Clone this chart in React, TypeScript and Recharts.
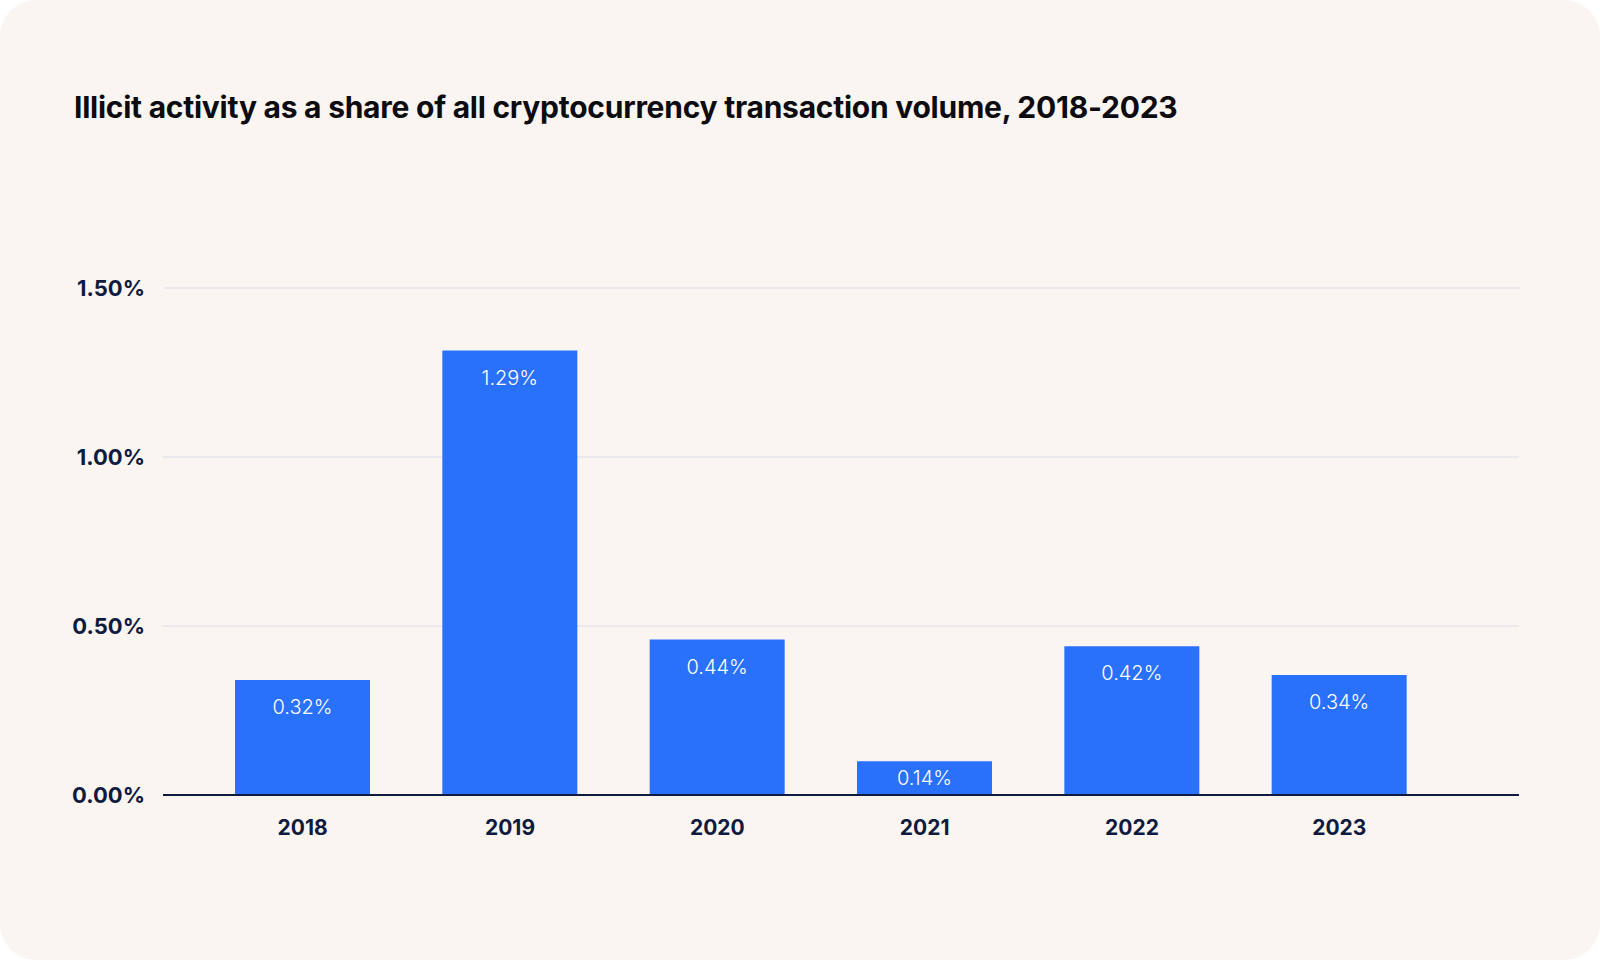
import React from 'react';
import { BarChart, Bar, XAxis, YAxis, CartesianGrid, LabelList } from 'recharts';

// Years on the x axis
const years = ['2018', '2019', '2020', '2021', '2022', '2023'];
// Bar heights as drawn in the source chart (% of volume)
const shares = [0.34, 1.315, 0.46, 0.1, 0.44, 0.355];
// Value labels printed inside the bars
const shareLabels = ['0.32%', '1.29%', '0.44%', '0.14%', '0.42%', '0.34%'];
// Y axis ticks
const yTicks = [0, 0.5, 1, 1.5];

const NAVY = '#0e1a3e';
const BLUE = '#2970fb';
const FONT = 'Inter, "Noto Sans", sans-serif';

const data = years.map((year, i) => ({ year, share: shares[i], label: shareLabels[i] }));

// label sits near the top of the bar, but stays centred in short bars
const BarValue = (props: any) => {
  const { x, y, width, height, value } = props;
  const cy = Math.min(y + 27, y + height / 2);
  return (
    <text
      x={x + width / 2}
      y={cy}
      textAnchor="middle"
      dominantBaseline="central"
      fill="#ffffff"
      fontSize={20}
      fontWeight={300}
      fontFamily={FONT}
    >
      {value}
    </text>
  );
};

const App: React.FC = () => {
  return (
    <div style={{ position: 'fixed', left: 0, top: 0, width: 1600, height: 960, background: '#ffffff' }}>
      <div
        style={{
          position: 'absolute',
          left: 0,
          top: 0,
          width: 1600,
          height: 960,
          borderRadius: 36,
          background: '#faf5f1',
          overflow: 'hidden',
        }}
      >
        <div
          style={{
            position: 'absolute',
            left: 74,
            top: 89,
            fontFamily: FONT,
            fontWeight: 700,
            fontSize: 30,
            letterSpacing: -0.25,
            color: '#0b0b10',
            whiteSpace: 'nowrap',
          }}
        >
          Illicit activity as a share of all cryptocurrency transaction volume, 2018-2023
        </div>
        <div style={{ position: 'absolute', left: 0, top: 0 }}>
          <BarChart
            width={1600}
            height={960}
            data={data}
            margin={{ top: 288, right: 81, bottom: 135, left: 0 }}
          >
            <CartesianGrid vertical={false} stroke="#ebe8ee" strokeWidth={2} />
            <XAxis
              dataKey="year"
              height={30}
              padding={{ left: 36, right: 76 }}
              axisLine={{ stroke: NAVY, strokeWidth: 2 }}
              tickLine={false}
              tickSize={0}
              tickMargin={25}
              tick={{ fill: NAVY, fontSize: 21, fontWeight: 700, fontFamily: FONT }}
            />
            <YAxis
              width={163}
              domain={[0, 1.5]}
              ticks={yTicks}
              axisLine={false}
              tickLine={false}
              tickSize={0}
              tickMargin={18}
              tickFormatter={(v: number) => `${v.toFixed(2)}%`}
              tick={{ fill: NAVY, fontSize: 22, fontWeight: 700, fontFamily: FONT }}
            />
            <Bar dataKey="share" fill={BLUE} barSize={135} isAnimationActive={false}>
              <LabelList dataKey="label" content={BarValue} />
            </Bar>
          </BarChart>
        </div>
      </div>
    </div>
  );
};

export default App;
